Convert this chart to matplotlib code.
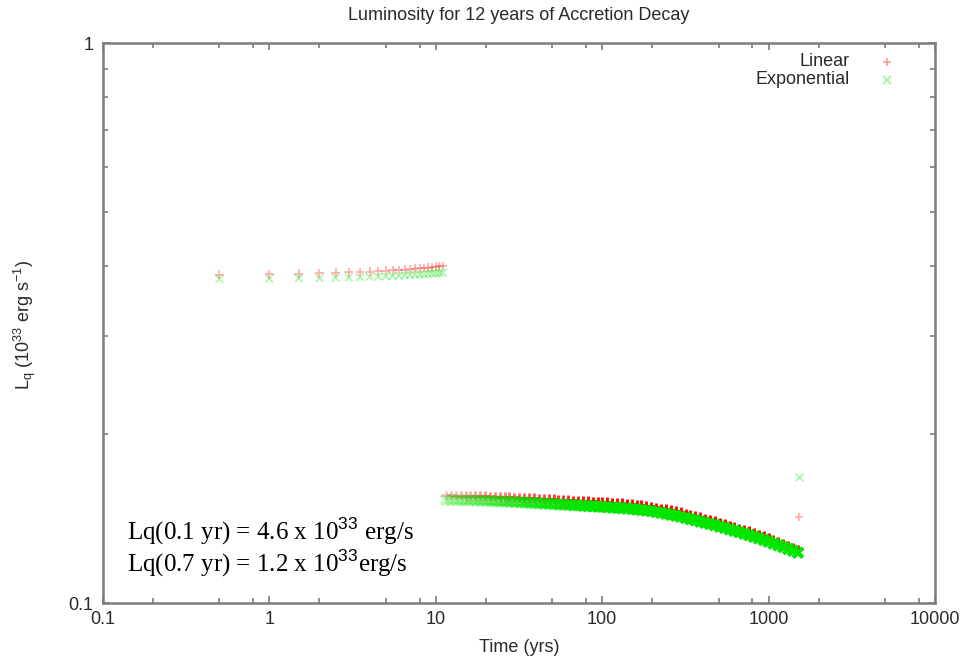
import numpy as np
import matplotlib
matplotlib.use('Agg')
import matplotlib.pyplot as plt
from matplotlib.ticker import FixedLocator, NullFormatter, FixedFormatter
from matplotlib.lines import Line2D

# ---------------- data ----------------
title = "Luminosity for 12 years of Accretion Decay"
xlabel = "Time (yrs)"
ylabel = r"L$_{\rm q}$ (10$^{33}$ erg s$^{-1}$)"
series_names = ["Linear", "Exponential"]

x_ticks = [0.1, 1, 10, 100, 1000, 10000]
x_ticklabels = ["0.1", "1", "10", "100", "1000", "10000"]
y_ticks = [0.1, 1]
y_ticklabels = ["0.1", "1"]

# early phase (0.5 yr steps)
top_t = [0.5, 1, 1.5, 2, 2.5, 3, 3.5, 4, 4.5, 5, 5.5, 6, 6.5, 7, 7.5, 8,
         8.5, 9, 9.5, 10, 10.5, 11]
top_lin = [0.3860, 0.3866, 0.3873, 0.3880, 0.3886, 0.3893, 0.3899, 0.3906,
           0.3912, 0.3919, 0.3925, 0.3932, 0.3938, 0.3945, 0.3951, 0.3958,
           0.3964, 0.3971, 0.3977, 0.3984, 0.3990, 0.3997]
top_exp = [0.3790, 0.3795, 0.3800, 0.3804, 0.3809, 0.3814, 0.3819, 0.3823,
           0.3828, 0.3833, 0.3838, 0.3842, 0.3847, 0.3852, 0.3857, 0.3861,
           0.3866, 0.3871, 0.3876, 0.3880, 0.3885, 0.3890]

# late phase
low_t = [11.5, 12.3, 13.2, 14.1, 15.1, 16.1, 17.3, 18.5, 19.8, 21.2,
         22.6, 24.2, 25.9, 27.7, 29.7, 31.8, 34, 36.4, 38.9, 41.6,
         44.5, 47.7, 51, 54.6, 58.4, 62.5, 66.9, 71.5, 76.5, 81.9,
         87.6, 93.8, 100, 107, 115, 123, 131, 141, 151, 161,
         172, 184, 197, 211, 226, 242, 259, 277, 296, 317,
         339, 363, 388, 415, 444, 475, 509, 544, 583, 623,
         667, 714, 764, 817, 874, 936, 1000, 1070, 1145, 1225,
         1310, 1400, 1500]
low_lin = [0.1556, 0.1556, 0.1555, 0.1555, 0.1554, 0.1554, 0.1553, 0.1552, 0.1551, 0.1550,
           0.1549, 0.1548, 0.1547, 0.1545, 0.1544, 0.1543, 0.1541, 0.1539, 0.1538, 0.1536,
           0.1534, 0.1533, 0.1532, 0.1530, 0.1529, 0.1527, 0.1525, 0.1524, 0.1522, 0.1520,
           0.1518, 0.1517, 0.1515, 0.1513, 0.1511, 0.1509, 0.1507, 0.1505, 0.1501, 0.1498,
           0.1495, 0.1492, 0.1488, 0.1481, 0.1476, 0.1470, 0.1464, 0.1458, 0.1452, 0.1445,
           0.1437, 0.1430, 0.1423, 0.1416, 0.1409, 0.1402, 0.1392, 0.1384, 0.1376, 0.1368,
           0.1359, 0.1351, 0.1343, 0.1334, 0.1326, 0.1317, 0.1306, 0.1295, 0.1286, 0.1277,
           0.1266, 0.1257, 0.1247]
low_exp = [0.1527, 0.1527, 0.1526, 0.1526, 0.1525, 0.1525, 0.1524, 0.1523, 0.1522, 0.1521,
           0.1520, 0.1519, 0.1518, 0.1516, 0.1515, 0.1514, 0.1512, 0.1510, 0.1509, 0.1507,
           0.1505, 0.1504, 0.1502, 0.1500, 0.1499, 0.1497, 0.1495, 0.1494, 0.1492, 0.1490,
           0.1488, 0.1487, 0.1485, 0.1483, 0.1481, 0.1479, 0.1477, 0.1475, 0.1472, 0.1469,
           0.1466, 0.1463, 0.1459, 0.1454, 0.1449, 0.1444, 0.1438, 0.1432, 0.1426, 0.1419,
           0.1412, 0.1405, 0.1398, 0.1391, 0.1384, 0.1377, 0.1369, 0.1362, 0.1354, 0.1346,
           0.1338, 0.1330, 0.1322, 0.1313, 0.1305, 0.1296, 0.1287, 0.1277, 0.1268, 0.1259,
           0.1249, 0.1240, 0.1230]

# final isolated points
end_t = [1530]
end_lin = [0.1425]
end_exp = [0.168]

note_lines = [r"Lq(0.1 yr) = 4.6 x 10$^{33}$ erg/s",
              r"Lq(0.7 yr) = 1.2 x 10$^{33}$erg/s"]

# ---------------- style ----------------
plt.rcParams['font.family'] = ['Liberation Sans', 'DejaVu Sans']
plt.rcParams['mathtext.fontset'] = 'custom'
plt.rcParams['mathtext.rm'] = 'Liberation Sans'
plt.rcParams['mathtext.default'] = 'rm'

W, H = 969, 664
fig = plt.figure(figsize=(W / 100, H / 100), dpi=100)
L, R, T, B = 103, 935, 43, 603
ax = fig.add_axes([L / W, 1 - B / H, (R - L) / W, (B - T) / H])

ax.set_xscale('log')
ax.set_yscale('log')
ax.set_xlim(0.1, 10000)
ax.set_ylim(0.1, 1)

RED = (1.0, 0.0, 0.0)
GREEN = (0.0, 0.9, 0.0)
TXT = '#2a2a2a'
FS = 13


def rgba(base, alphas):
    return [(base[0], base[1], base[2], a) for a in alphas]


# early phase: pale markers
ax.scatter(top_t, top_lin, marker='+', s=40, linewidths=1.2,
           c=rgba(RED, [0.33] * len(top_t)), zorder=3)
ax.scatter(top_t, top_exp, marker='x', s=30, linewidths=1.2,
           c=rgba(GREEN, [0.33] * len(top_t)), zorder=4)

# late phase: point density grows with time -> more saturated
lt = np.array(low_t)
alpha = np.clip(0.22 + 0.78 * (np.log10(lt) - np.log10(11)) /
                (np.log10(90) - np.log10(11)), 0.22, 1.0)
ax.scatter(low_t, low_lin, marker='+', s=48, linewidths=2.0,
           c=rgba(RED, alpha), zorder=3)
ax.scatter(low_t, low_exp, marker='x', s=50, linewidths=3.0,
           c=rgba(GREEN, alpha), zorder=4)

ax.scatter(end_t, end_lin, marker='+', s=40, linewidths=1.2,
           c=rgba(RED, [0.33]), zorder=3)
ax.scatter(end_t, end_exp, marker='x', s=30, linewidths=1.2,
           c=rgba(GREEN, [0.33]), zorder=4)

# frame & ticks
frame_col = '#7d7d7d'
for sp in ax.spines.values():
    sp.set_color(frame_col)
    sp.set_linewidth(1.8)

ax.xaxis.set_major_locator(FixedLocator(x_ticks))
ax.xaxis.set_major_formatter(FixedFormatter(x_ticklabels))
xminor = [m * 10.0 ** e for e in range(-1, 4) for m in (2, 5, 8)]
ax.xaxis.set_minor_locator(FixedLocator(xminor))
ax.xaxis.set_minor_formatter(NullFormatter())

ax.yaxis.set_major_locator(FixedLocator(y_ticks))
ax.yaxis.set_major_formatter(FixedFormatter(y_ticklabels))
yminor = [m * 0.1 for m in range(2, 10)]
ax.yaxis.set_minor_locator(FixedLocator(yminor))
ax.yaxis.set_minor_formatter(NullFormatter())

ax.tick_params(which='both', direction='in', top=True, right=True,
               color=frame_col, labelcolor=TXT, labelsize=FS)
ax.tick_params(which='major', length=5, width=1.2)
ax.tick_params(which='minor', length=3.5, width=1.2)
ax.tick_params(axis='x', which='major', pad=6)
ax.tick_params(axis='y', which='major', pad=7)

# title / axis labels placed like the gnuplot original
fig.text(519 / W, 1 - 16 / H, title, ha='center', va='center',
         fontsize=FS, color=TXT)
fig.text(519 / W, 1 - 648 / H, xlabel, ha='center', va='center',
         fontsize=FS, color=TXT)
fig.text(25 / W, 1 - 325 / H, ylabel, ha='center', va='center',
         rotation=90, fontsize=FS, color=TXT)

# legend (text right-aligned, marker to the right)
leg_y = [62, 80]
leg_mk = ['+', 'x']
leg_col = [(1, 0, 0, 0.4), (0, 0.9, 0, 0.4)]
for name, yy, mk, col in zip(series_names, leg_y, leg_mk, leg_col):
    fig.text(850 / W, 1 - yy / H, name, ha='right', va='center',
             fontsize=FS, color=TXT)
    fig.add_artist(Line2D([887 / W], [1 - yy / H], marker=mk, color=col,
                          markersize=6, markeredgewidth=1.2, linestyle='none',
                          transform=fig.transFigure))

# annotation in serif
for i, line in enumerate(note_lines):
    fig.text(127 / W, 1 - (531 + 32 * i) / H, line, ha='left', va='center',
             fontsize=18, color='black', family='Liberation Serif',
             math_fontfamily='custom')

fig.savefig('out.png', dpi=100)
